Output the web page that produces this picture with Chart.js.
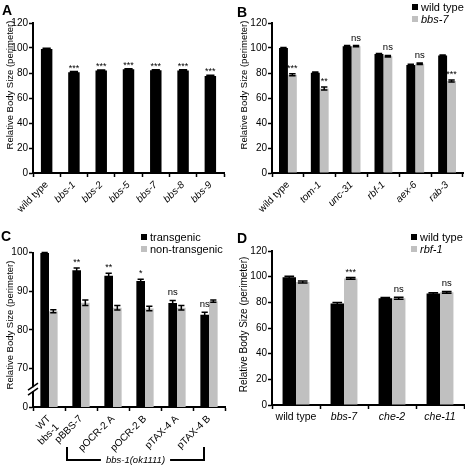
<!DOCTYPE html>
<html>
<head>
<meta charset="utf-8">
<script src="https://cdn.jsdelivr.net/npm/chart.js@4.4.0/dist/chart.umd.min.js"></script>
<style>
  body { margin: 0; background: #fff; }
  #fig { position: relative; width: 465px; height: 466px; overflow: hidden; font-family: 'Liberation Sans', Arial, sans-serif; color: #000; }
  #fig canvas { position: absolute; }
  .letter { position: absolute; font-weight: bold; font-size: 14px; line-height: 14px; }
  .key { position: absolute; font-size: 11px; line-height: 12px; white-space: nowrap; }
  .key i.sq { display: inline-block; width: 6px; height: 6px; margin-right: 3px; vertical-align: 1px; }
  .key em { font-style: italic; }
</style>
</head>
<body>
<div id="fig">
  <canvas id="chartA" width="232" height="233" style="left:0;top:0"></canvas>
  <canvas id="chartB" width="233" height="233" style="left:232px;top:0"></canvas>
  <canvas id="chartC" width="232" height="233" style="left:0;top:233px"></canvas>
  <canvas id="chartD" width="233" height="233" style="left:232px;top:233px"></canvas>

  <div class="letter" style="left:2px;top:3px">A</div>
  <div class="letter" style="left:237px;top:5px">B</div>
  <div class="letter" style="left:1px;top:229px">C</div>
  <div class="letter" style="left:237px;top:231px">D</div>

  <div class="key" style="left:412px;top:1px"><i class="sq" style="background:#000"></i>wild type</div>
  <div class="key" style="left:412px;top:13px"><i class="sq" style="background:#c0c0c0"></i><em>bbs-7</em></div>
  <div class="key" style="left:141px;top:231px"><i class="sq" style="background:#000"></i>transgenic</div>
  <div class="key" style="left:141px;top:243px"><i class="sq" style="background:#c0c0c0"></i>non-transgenic</div>
  <div class="key" style="left:411px;top:231px"><i class="sq" style="background:#000"></i>wild type</div>
  <div class="key" style="left:411px;top:243px"><i class="sq" style="background:#c0c0c0"></i><em>rbf-1</em></div>
</div>

<script>
// panel A
const labelsA = ['wild type', 'bbs-1', 'bbs-2', 'bbs-5', 'bbs-7', 'bbs-8', 'bbs-9'];
const valuesA = [99.3, 80.6, 82, 83, 82.2, 82, 77.6];
const errA = [0.5, 0.6, 0.5, 0.5, 0.5, 0.6, 0.6];
const sigA = ['', '***', '***', '***', '***', '***', '***'];

// panel B
const labelsB = ['wild type', 'tom-1', 'unc-31', 'rbf-1', 'aex-6', 'rab-3'];
const wildTypeB = [100, 80.3, 101.5, 95.2, 86.5, 94];
const bbs7B = [78.6, 67.6, 101.5, 93.5, 87.4, 73.6];
const errWildTypeB = [0.5, 0.5, 0.5, 0.5, 0.5, 0.5];
const errBbs7B = [0.8, 1.2, 0.5, 0.6, 0.6, 0.8];
const sigB = ['***', '**', 'ns', 'ns', 'ns', '***'];

// panel C (broken axis: the bottom tick 60 is labelled 0)
const labelsC = [['WT', 'bbs-1'], 'pBBS-7', 'pOCR-2 A', 'pOCR-2 B', 'pTAX-4 A', 'pTAX-4 B'];
const transgenicC = [99.9, 95.4, 94, 92.6, 86.9, 83.9];
const nonTransgenicC = [84.8, 87, 85.7, 85.5, 85.7, 87.4];
const errTransgenicC = [0.1, 0.6, 0.6, 0.5, 0.7, 0.6];
const errNonTransgenicC = [0.4, 0.7, 0.6, 0.6, 0.6, 0.3];
const sigC = ['', '**', '**', '*', 'ns', 'ns'];
const tickLabelsC = { 60: '0', 70: '70', 80: '80', 90: '90', 100: '100' };

// panel D
const labelsD = ['wild type', 'bbs-7', 'che-2', 'che-11'];
const wildTypeD = [99.5, 79, 83.2, 86.8];
const rbf1D = [95.8, 98.6, 83.2, 87.8];
const errWildTypeD = [0.9, 0.8, 0.6, 0.7];
const errRbf1D = [0.8, 0.7, 0.7, 0.7];
const sigD = ['', '***', 'ns', 'ns'];

const BLACK = '#000';
const GREY = '#c0c0c0';
const FONT = "'Liberation Sans', Arial, sans-serif";
Chart.defaults.font.family = FONT;
Chart.defaults.color = BLACK;

// error bars, significance labels, y title and any extras
function marks(o) {
    return {
        id: 'marks',
        afterDatasetsDraw(chart) {
            const ctx = chart.ctx, y = chart.scales.y;
            ctx.save();
            ctx.strokeStyle = BLACK;
            ctx.lineWidth = 1.5;
            chart.data.datasets.forEach((ds, i) => {
                chart.getDatasetMeta(i).data.forEach((bar, j) => {
                    const top = y.getPixelForValue(ds.data[j] + ds.err[j]);
                    const bot = y.getPixelForValue(ds.data[j] - ds.err[j]);
                    const half = bar.width * 0.36;
                    ctx.beginPath();
                    ctx.moveTo(bar.x, top); ctx.lineTo(bar.x, bot);
                    ctx.moveTo(bar.x - half, top); ctx.lineTo(bar.x + half, top);
                    ctx.moveTo(bar.x - half, bot); ctx.lineTo(bar.x + half, bot);
                    ctx.stroke();
                });
            });

            const ds = chart.data.datasets[o.sigSet];
            const meta = chart.getDatasetMeta(o.sigSet);
            ctx.fillStyle = BLACK;
            ctx.textAlign = 'center';
            ctx.textBaseline = 'alphabetic';
            o.sig.forEach((s, j) => {
                if (!s) return;
                const top = y.getPixelForValue(ds.data[j] + ds.err[j]);
                if (s === 'ns') {
                    ctx.font = '9.5px ' + FONT;
                    ctx.fillText(s, meta.data[j].x, top - 5);
                } else {
                    ctx.font = '9px ' + FONT;
                    ctx.fillText(s, meta.data[j].x, top - o.starGap);
                }
            });
            ctx.restore();
        },
        afterDraw(chart) {
            const ctx = chart.ctx;
            ctx.save();
            ctx.translate(o.titleX, o.titleY);
            ctx.rotate(-Math.PI / 2);
            ctx.font = o.titleSize + 'px ' + FONT;
            ctx.fillStyle = BLACK;
            ctx.textAlign = 'center';
            ctx.textBaseline = 'middle';
            ctx.fillText('Relative Body Size (perimeter)', 0, 0);
            ctx.restore();
            if (o.extra) o.extra(chart);
        }
    };
}

// axis break and bbs-1(ok1111) bracket for panel C
function extrasC(chart) {
    const ctx = chart.ctx, y = chart.scales.y, x = chart.scales.x;
    const ax = chart.chartArea.left;
    const yb = y.getPixelForValue(64.6);
    ctx.save();
    ctx.fillStyle = '#fff';
    ctx.fillRect(ax - 2, yb - 2, 4, 4);
    ctx.strokeStyle = BLACK;
    ctx.lineWidth = 1.5;
    ctx.beginPath();
    ctx.moveTo(ax - 5, yb + 1); ctx.lineTo(ax + 5, yb - 6);
    ctx.moveTo(ax - 5, yb + 6); ctx.lineTo(ax + 5, yb - 1);
    ctx.stroke();

    const xl = x.getPixelForValue(1) - 14;
    const xr = x.getPixelForValue(5) - 5;
    const yt = chart.chartArea.bottom + 40;
    const yl = yt + 13;
    const mid = (xl + xr) / 2;
    ctx.font = 'italic 9.5px ' + FONT;
    const half = ctx.measureText('bbs-1(ok1111)').width / 2 + 5;
    ctx.lineWidth = 2;
    ctx.beginPath();
    ctx.moveTo(xl, yt); ctx.lineTo(xl, yl); ctx.lineTo(mid - half, yl);
    ctx.moveTo(mid + half, yl); ctx.lineTo(xr, yl); ctx.lineTo(xr, yt);
    ctx.stroke();
    ctx.fillStyle = BLACK;
    ctx.textAlign = 'center';
    ctx.textBaseline = 'middle';
    ctx.fillText('bbs-1(ok1111)', mid, yl + 0.5);
    ctx.restore();
}

function barChart(id, c) {
    return new Chart(document.getElementById(id), {
        type: 'bar',
        data: { labels: c.labels, datasets: c.datasets },
        options: {
            responsive: false,
            animation: false,
            layout: { padding: c.padding },
            datasets: { bar: { categoryPercentage: c.catPct, barPercentage: c.barPct } },
            plugins: { legend: { display: false }, tooltip: { enabled: false } },
            scales: {
                x: {
                    grid: { offset: true, drawOnChartArea: false, tickLength: 4, tickWidth: 1.5, tickColor: BLACK },
                    border: { color: BLACK, width: 2 },
                    ticks: {
                        color: BLACK,
                        autoSkip: false,
                        minRotation: c.rotation,
                        maxRotation: c.rotation,
                        padding: 2,
                        font: ctx => ({ size: c.xFont, style: c.italic(ctx.index) ? 'italic' : 'normal' })
                    },
                    afterFit: s => { s.height = c.xHeight; }
                },
                y: {
                    min: c.min,
                    max: c.max,
                    grid: { drawOnChartArea: false, tickLength: 4, tickWidth: 1.5, tickColor: BLACK },
                    border: { color: BLACK, width: 2 },
                    ticks: {
                        color: BLACK,
                        stepSize: c.step,
                        padding: 1,
                        font: { size: 10 },
                        callback: c.tickLabel || (v => v)
                    },
                    afterFit: s => { s.width = c.yWidth; }
                }
            }
        },
        plugins: [marks(c.marks)]
    });
}

barChart('chartA', {
    labels: labelsA,
    datasets: [{ data: valuesA, err: errA, backgroundColor: BLACK }],
    padding: { top: 23, right: 8, left: 0, bottom: 0 },
    yWidth: 33, xHeight: 60, min: 0, max: 120, step: 20,
    catPct: 1, barPct: 0.42, rotation: 45, xFont: 10,
    italic: i => i > 0,
    marks: { sig: sigA, sigSet: 0, starGap: 1, titleX: 10, titleY: 85, titleSize: 9.5 }
});

barChart('chartB', {
    labels: labelsB,
    datasets: [
        { data: wildTypeB, err: errWildTypeB, backgroundColor: BLACK },
        { data: bbs7B, err: errBbs7B, backgroundColor: GREY }
    ],
    padding: { top: 23, right: 2, left: 0, bottom: 0 },
    yWidth: 40, xHeight: 60, min: 0, max: 120, step: 20,
    catPct: 0.56, barPct: 1, rotation: 45, xFont: 10,
    italic: i => i > 0,
    marks: { sig: sigB, sigSet: 1, starGap: 3, titleX: 12, titleY: 85, titleSize: 9.5 }
});

barChart('chartC', {
    labels: labelsC,
    datasets: [
        { data: transgenicC, err: errTransgenicC, backgroundColor: BLACK },
        { data: nonTransgenicC, err: errNonTransgenicC, backgroundColor: GREY }
    ],
    padding: { top: 19.5, right: 7, left: 0, bottom: 0 },
    yWidth: 33, xHeight: 59, min: 60, max: 100, step: 10,
    catPct: 0.54, barPct: 1, rotation: 45, xFont: 10,
    italic: () => false,
    tickLabel: v => tickLabelsC[v],
    marks: { sig: sigC, sigSet: 0, starGap: 3, titleX: 10, titleY: 92, titleSize: 9.5, extra: extrasC }
});

barChart('chartD', {
    labels: labelsD,
    datasets: [
        { data: wildTypeD, err: errWildTypeD, backgroundColor: BLACK },
        { data: rbf1D, err: errRbf1D, backgroundColor: GREY }
    ],
    padding: { top: 18, right: 1, left: 0, bottom: 0 },
    yWidth: 40, xHeight: 61, min: 0, max: 120, step: 20,
    catPct: 0.56, barPct: 1, rotation: 0, xFont: 10.5,
    italic: i => i > 0,
    marks: { sig: sigD, sigSet: 1, starGap: 3, titleX: 12, titleY: 91.5, titleSize: 10 }
});
</script>
</body>
</html>
